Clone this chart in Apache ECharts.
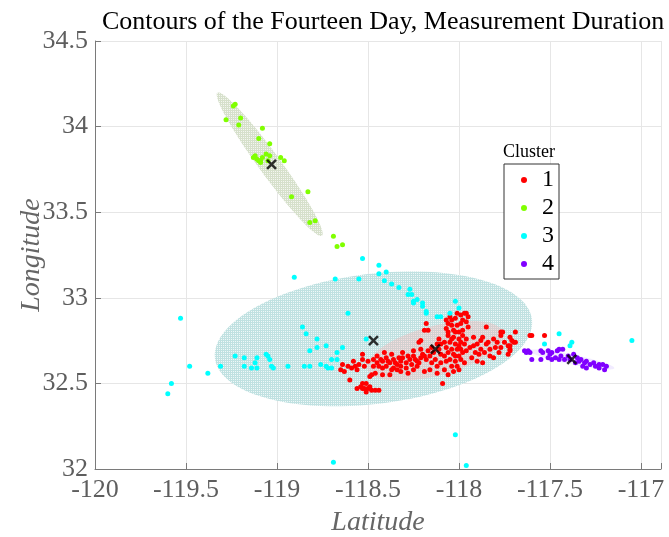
<!DOCTYPE html>
<html>
<head>
<meta charset="utf-8">
<script src="https://cdn.jsdelivr.net/npm/echarts@6/dist/echarts.min.js"></script>
<style>
  html, body { margin: 0; padding: 0; background: #fff; }
  #chart { width: 669px; height: 537px; }
</style>
</head>
<body>
<div id="chart"></div>
<script>
// cluster points, [lon, lat]
const cluster1 = [
  [-118.64,32.61],[-118.61,32.60],[-118.59,32.59],[-118.57,32.60],[-118.65,32.58],[-118.63,32.57],[-118.60,32.52],
  [-118.56,32.58],[-118.53,32.67],[-118.53,32.64],[-118.55,32.61],[-118.52,32.60],[-118.50,32.63],[-118.48,32.55],
  [-118.49,32.54],[-118.46,32.56],
  [-118.56,32.47],[-118.54,32.48],[-118.53,32.50],[-118.51,32.45],[-118.50,32.47],[-118.48,32.46],[-118.46,32.46],
  [-118.44,32.46],[-118.52,32.47],[-118.53,32.47],[-118.49,32.48],[-118.51,32.50],
  [-118.47,32.64],[-118.45,32.62],[-118.43,32.64],[-118.42,32.63],[-118.40,32.65],[-118.38,32.62],[-118.36,32.64],
  [-118.34,32.61],[-118.32,32.63],[-118.31,32.65],[-118.29,32.62],[-118.27,32.64],[-118.25,32.66],[-118.23,32.63],
  [-118.21,32.65],[-118.20,32.67],[-118.18,32.64],[-118.16,32.66],[-118.14,32.68],[-118.42,32.59],[-118.40,32.60],
  [-118.36,32.59],[-118.32,32.60],[-118.29,32.59],[-118.45,32.66],[-118.41,32.68],[-118.37,32.67],[-118.31,32.68],
  [-118.25,32.69],[-118.21,32.70],[-118.22,32.74],[-118.21,32.75],[-118.18,32.85],[-118.19,32.81],[-118.15,32.71],
  [-118.12,32.73],[-118.13,32.64],[-118.10,32.67],[-118.10,32.62],[-118.12,32.60],[-118.16,32.58],[-118.23,32.60],
  [-118.25,32.58],[-118.32,32.57],[-118.38,32.55],[-118.42,32.55],[-118.37,32.58],
  [-118.07,32.87],[-118.05,32.89],[-118.02,32.88],[-117.99,32.90],[-117.97,32.91],[-117.95,32.89],[-117.96,32.86],
  [-117.99,32.85],[-118.01,32.84],[-118.04,32.84],[-118.07,32.82],[-118.03,32.81],[-118.00,32.80],[-117.98,32.81],
  [-117.95,32.83],[-118.06,32.78],[-118.03,32.77],[-118.00,32.76],[-117.98,32.78],[-118.05,32.74],[-118.02,32.73],
  [-117.99,32.74],[-117.97,32.73],[-118.07,32.71],[-118.04,32.70],[-118.01,32.70],[-117.99,32.70],[-118.06,32.68],
  [-118.03,32.67],[-118.00,32.66],[-117.98,32.68],[-118.05,32.64],[-118.02,32.63],[-117.99,32.64],[-118.04,32.60],
  [-118.01,32.60],[-118.03,32.57],[-118.08,32.58],[-118.09,32.50],[-118.11,32.76],[-118.10,32.73],[-118.17,32.81],
  [-117.96,32.91],[-118.01,32.91],
  [-117.92,32.77],[-117.90,32.73],[-117.88,32.75],[-117.87,32.77],[-117.85,32.83],[-117.84,32.74],[-117.81,32.76],
  [-117.79,32.74],[-117.77,32.80],[-117.77,32.78],[-117.75,32.74],[-117.73,32.72],[-117.71,32.75],[-117.69,32.80],
  [-117.72,32.69],[-117.77,32.71],[-117.81,32.65],[-117.83,32.70],[-117.86,32.68],[-117.88,32.70],[-117.91,32.68],
  [-117.93,32.65],[-117.90,32.63],[-117.94,32.71],[-117.85,32.73],[-117.61,32.78],[-117.69,32.74],
  [-117.76,32.80],[-117.72,32.77],[-117.70,32.74],[-117.72,32.72],[-117.72,32.70],[-117.73,32.67],[-117.60,32.78],
  [-117.53,32.78],
  [-118.44,32.60],[-118.39,32.63],[-118.35,32.62],[-118.33,32.65],[-118.28,32.66],[-118.26,32.61],[-118.24,32.64],
  [-118.22,32.62],[-118.19,32.66],[-118.17,32.69],[-118.15,32.62],[-118.11,32.70],[-118.08,32.66],[-118.08,32.74],
  [-118.06,32.80],[-118.06,32.85],[-118.04,32.87],[-117.98,32.87],[-118.02,32.80],[-118.04,32.76],[-118.00,32.72],
  [-117.96,32.76],[-117.96,32.69],[-118.02,32.66],[-118.07,32.63],[-117.97,32.62],[-118.00,32.58],[-118.06,32.55],
  [-118.12,32.56],[-118.19,32.57],[-117.92,32.72],[-117.89,32.67],[-117.87,32.62],[-117.83,32.66],[-117.80,32.71],
  [-117.78,32.68],[-118.34,32.58],[-118.28,32.56],[-118.47,32.60],[-118.58,32.63]
];
const cluster2 = [
  [-119.24,34.12],[-119.23,34.13],[-119.28,34.04],[-119.20,34.05],[-119.21,34.01],[-119.08,33.99],[-119.10,33.93],
  [-119.04,33.90],[-119.12,33.83],[-119.11,33.81],[-119.09,33.80],[-119.08,33.82],[-119.10,33.80],[-119.09,33.79],
  [-119.06,33.84],[-119.04,33.83],[-119.05,33.80],[-119.13,33.82],[-118.98,33.82],[-118.96,33.80],[-118.83,33.62],
  [-118.92,33.59],[-118.79,33.45],[-118.82,33.44],[-118.69,33.36],[-118.67,33.30],[-118.64,33.31]
];
const cluster3 = [
  [-118.905,33.12],[-118.68,33.11],[-118.61,32.91],[-119.53,32.88],[-118.86,32.83],[-118.84,32.79],[-118.78,32.76],
  [-118.78,32.71],[-118.73,32.72],[-118.82,32.69],[-118.64,32.71],[-118.67,32.68],[-119.23,32.66],[-119.18,32.65],
  [-119.11,32.65],[-119.06,32.67],[-119.05,32.66],[-119.04,32.64],[-119.12,32.62],[-119.31,32.60],[-119.48,32.60],
  [-119.18,32.60],[-119.14,32.59],[-119.11,32.59],[-119.03,32.60],[-119.02,32.59],[-118.94,32.60],[-118.85,32.60],
  [-118.82,32.60],[-118.76,32.61],[-118.73,32.60],[-118.72,32.59],[-118.70,32.59],[-118.70,32.64],[-118.67,32.64],
  [-119.38,32.56],[-119.58,32.50],[-119.60,32.44],[-118.55,33.11],[-118.44,33.19],[-118.53,33.23],[-118.44,33.14],
  [-118.40,33.15],[-118.41,33.10],[-118.37,33.08],[-118.33,33.06],[-118.27,33.05],[-118.28,33.02],[-118.26,33.02],
  [-118.25,32.98],[-118.23,32.99],[-118.25,32.97],[-118.20,32.97],[-118.20,32.95],[-118.18,32.92],[-118.18,32.91],
  [-118.12,32.89],[-118.10,32.89],[-118.05,32.91],[-118.02,32.98],[-118.00,32.94],[-118.51,32.76],[-117.45,32.79],
  [-117.53,32.73],[-117.38,32.74],[-117.39,32.72],[-117.05,32.75],[-118.69,32.04],[-117.96,32.02],[-118.02,32.20]
];
const cluster4 = [
  [-117.64,32.69],[-117.62,32.69],[-117.61,32.68],[-117.63,32.68],[-117.60,32.64],[-117.55,32.69],[-117.54,32.68],
  [-117.55,32.64],[-117.51,32.69],[-117.50,32.67],[-117.49,32.68],[-117.51,32.65],[-117.49,32.64],[-117.46,32.69],
  [-117.45,32.70],[-117.43,32.70],[-117.47,32.65],[-117.45,32.64],[-117.44,32.66],[-117.42,32.64],[-117.40,32.66],
  [-117.39,32.64],[-117.37,32.67],[-117.35,32.65],[-117.34,32.63],[-117.36,32.62],[-117.33,32.64],[-117.31,32.62],
  [-117.30,32.63],[-117.28,32.61],[-117.26,32.62],[-117.25,32.60],[-117.23,32.61],[-117.23,32.59],[-117.21,32.61],
  [-117.19,32.60],[-117.20,32.58],[-117.32,32.60],[-117.30,32.59]
];
const centroids = [[-118.13,32.70],[-119.03,33.78],[-118.47,32.75],[-117.38,32.64]];

// contour ellipses: centre, major half-axis and minor half-axis (data units)
const ellipseCenter = [[-118.13,32.69],[-119.04,33.78],[-118.47,32.76],[-117.38,32.64]];
const ellipseMajor  = [[0.374,0.105],[0.287,-0.418],[0.871,0.114],[0.234,-0.050]];
const ellipseMinor  = [[0.033,-0.140],[0.048,0.038],[-0.043,0.377],[-0.005,0.030]];
const drawOrder = [2, 1, 0, 3];

const clusterNames = ['1', '2', '3', '4'];
const clusterColors = ['#ff0000', '#80ff00', '#00ffff', '#8000ff'];

function makePattern(on, off) {
  const c = document.createElement('canvas');
  c.width = 2; c.height = 2;
  const ctx = c.getContext('2d');
  ctx.fillStyle = off; ctx.fillRect(0, 0, 2, 2);
  ctx.fillStyle = on;
  ctx.fillRect(0, 0, 2, 1);
  ctx.fillRect(0, 0, 1, 2);
  return { image: c, repeat: 'repeat' };
}
const ellipseFill = [
  'rgba(255,170,170,0.3)',
  makePattern('#d6e0cb', '#f4f6f0'),
  makePattern('#c0e1e1', '#eff8f8'),
  'rgba(200,175,255,0.25)'
];

const chart = echarts.init(document.getElementById('chart'));
const serif = 'Liberation Serif';

const scatterSeries = [cluster1, cluster2, cluster3, cluster4].map((pts, i) => ({
  name: clusterNames[i],
  type: 'scatter',
  data: pts,
  symbol: 'circle',
  symbolSize: 5,
  itemStyle: { color: clusterColors[i], opacity: 1 },
  z: 3
}));

chart.setOption({
  animation: false,
  title: {
    text: 'Contours of the Fourteen Day, Measurement Duration',
    left: 97, top: 4,
    textStyle: { fontFamily: serif, fontSize: 26, fontWeight: 'normal', color: '#000' }
  },
  grid: { left: 95, right: 8, top: 41, bottom: 68, outerBoundsMode: 'none', containLabel: false },
  legend: {
    data: clusterNames,
    orient: 'vertical',
    left: 504, top: 164,
    padding: [2, 5, 1, 17],
    itemGap: 0,
    itemWidth: 6, itemHeight: 6,
    icon: 'circle',
    borderColor: '#333', borderWidth: 1,
    backgroundColor: '#fff',
    textStyle: { fontFamily: serif, fontSize: 24, lineHeight: 28, color: '#000', padding: [0, 0, 0, 10] }
  },
  graphic: [{
    type: 'text', left: 503, top: 143, z: 10,
    style: { text: 'Cluster', fontFamily: serif, fontSize: 18, fill: '#000' }
  }],
  xAxis: {
    type: 'value', min: -120, max: -116.89, interval: 0.5,
    name: 'Latitude', nameLocation: 'middle', nameGap: 40,
    nameTextStyle: { fontFamily: serif, fontSize: 28, fontStyle: 'italic', color: '#666' },
    axisLine: { show: true, lineStyle: { color: '#7a7a7a' } },
    axisTick: { show: true, inside: true, length: 6, lineStyle: { color: '#7a7a7a' } },
    axisLabel: {
      fontFamily: serif, fontSize: 26, color: '#5e5e5e', margin: 8,
      formatter: v => (Math.abs(v * 2 - Math.round(v * 2)) < 1e-6 ? String(v) : '')
    },
    splitLine: { show: true, lineStyle: { color: '#e6e6e6' } }
  },
  yAxis: {
    type: 'value', min: 32, max: 34.5, interval: 0.5,
    name: 'Longitude', nameLocation: 'middle', nameGap: 49, nameMoveOverlap: false,
    nameTextStyle: { fontFamily: serif, fontSize: 28, fontStyle: 'italic', color: '#666' },
    axisLine: { show: true, lineStyle: { color: '#7a7a7a' } },
    axisTick: { show: true, inside: true, length: 6, lineStyle: { color: '#7a7a7a' } },
    axisLabel: { fontFamily: serif, fontSize: 26, color: '#5e5e5e', margin: 7 },
    splitLine: { show: true, lineStyle: { color: '#e6e6e6' } }
  },
  series: [
    {
      type: 'custom',
      name: 'contours',
      z: 1,
      clip: true,
      data: drawOrder.map(k => [ellipseCenter[k][0], ellipseCenter[k][1], k]),
      renderItem: function (params, api) {
        const k = api.value(2);
        const c = ellipseCenter[k], u = ellipseMajor[k], v = ellipseMinor[k];
        const pts = [];
        for (let j = 0; j < 96; j++) {
          const t = (j / 96) * Math.PI * 2;
          pts.push(api.coord([
            c[0] + u[0] * Math.cos(t) + v[0] * Math.sin(t),
            c[1] + u[1] * Math.cos(t) + v[1] * Math.sin(t)
          ]));
        }
        return {
          type: 'polygon',
          shape: { points: pts },
          style: { fill: ellipseFill[k], stroke: null }
        };
      }
    },
    ...scatterSeries,
    {
      type: 'scatter',
      name: 'centroids',
      data: centroids,
      symbol: 'path://M0,0L10,10M10,0L0,10',
      symbolSize: 9,
      itemStyle: { color: 'none', borderColor: '#000', borderWidth: 2.5 },
      z: 5
    }
  ]
});
</script>
</body>
</html>
